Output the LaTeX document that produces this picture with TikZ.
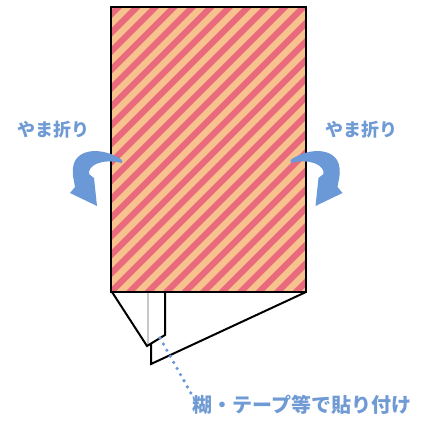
\documentclass[tikz,border=0pt]{standalone}
\usepackage{fontspec}
\newfontfamily\jp{Noto Sans CJK JP}
\definecolor{stripepink}{HTML}{E86A7C}
\definecolor{stripeorange}{HTML}{F8C28F}
\definecolor{foldblue}{HTML}{6B98D6}
\definecolor{textblue}{HTML}{6F9AD3}
\definecolor{guidegrey}{HTML}{C8C8C8}
\tikzset{
  outline/.style={draw=black, line width=2pt, line join=miter},
  foldarrow/.style={fill=foldblue, draw=none},
  label/.style={inner sep=0pt, text=textblue, font=\jp\bfseries},
  dotline/.style={draw=foldblue, line width=3.6pt, line cap=round, dash pattern=on 0pt off 7pt},
}
\begin{document}
\begin{tikzpicture}[x=1pt, y=-1pt]
\useasboundingbox (0,0) rectangle (427,420);
% striped sheet
\begin{scope}
  \clip (111,7) rectangle (306,292);
  \fill[stripeorange] (111,7) rectangle (306,292);
  \foreach \c in {70,88.5,...,620} {
    \draw[stripepink, line width=6.2pt] (\c,0) -- ++(-420,420);
  }
\end{scope}
\draw[outline] (111,7) rectangle (306,292);
% folded flaps
\draw[guidegrey, line width=1.2pt] (148,293) -- (148,345);
\draw[outline] (112,292) -- (147,346) -- (165,335) -- (165,292);
\draw[outline] (151,344) -- (151,364) -- (306,292);
% left fold arrow
\fill[foldarrow] (122,160)
  .. controls (104,147) and (75,147) .. (73,168)
  .. controls (72,175) and (74,180) .. (75,187)
  -- (70,193) -- (97,206) -- (94,178) -- (89,174)
  .. controls (88,166) and (100,158) .. (122,163) -- cycle;
% right fold arrow (mirror about x=412.5)
\begin{scope}[xshift=412.5pt, xscale=-1]
\fill[foldarrow] (122,160)
  .. controls (104,147) and (75,147) .. (73,168)
  .. controls (72,175) and (74,180) .. (75,187)
  -- (70,193) -- (97,206) -- (94,178) -- (89,174)
  .. controls (88,166) and (100,158) .. (122,163) -- cycle;
\end{scope}
% labels
\node[label, font=\jp\bfseries\fontsize{18}{18}\selectfont, anchor=west] (lfold) at (17,130) {やま折り};
\node[label, font=\jp\bfseries\fontsize{18}{18}\selectfont, anchor=west] (rfold) at (325,130) {やま折り};
\node[label, font=\jp\bfseries\fontsize{20}{20}\selectfont, anchor=west] (glue) at (192,405) {糊・テープ等で貼り付け};
\coordinate (gluept) at (160,338);
\draw[dotline] (gluept) -- (glue.north west);
\end{tikzpicture}
\end{document}
